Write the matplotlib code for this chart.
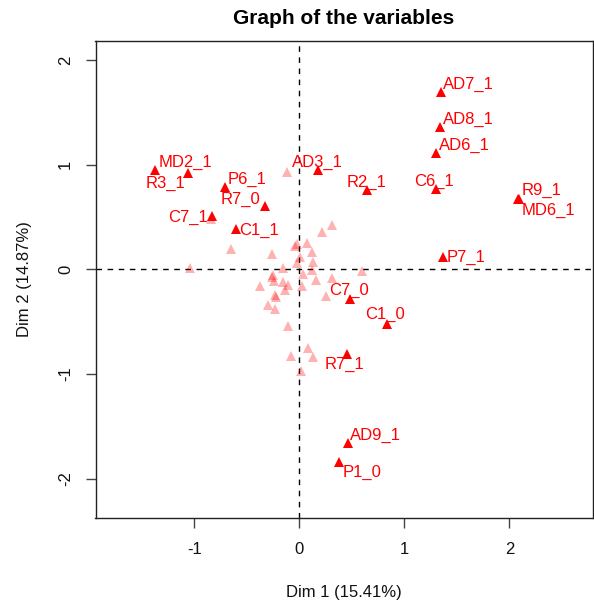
import matplotlib
matplotlib.use("Agg")
import matplotlib.pyplot as plt

plt.rcParams['font.family'] = ['Liberation Sans', 'DejaVu Sans']

# Active (labelled) categories
labels = ["AD7_1", "AD8_1", "AD6_1", "C6_1", "R9_1", "MD6_1", "P7_1",
          "MD2_1", "R3_1", "AD3_1", "R2_1", "P6_1", "R7_0", "C7_1", "C1_1",
          "C7_0", "C1_0", "R7_1", "AD9_1", "P1_0"]
dim1 = [1.350, 1.340, 1.299, 1.299, 2.085, 2.090, 1.372,
        -1.372, -1.055, 0.182, 0.642, -0.706, -0.325, -0.827, -0.605,
        0.483, 0.839, 0.452, 0.461, 0.382]
dim2 = [1.693, 1.358, 1.110, 0.770, 0.675, 0.668, 0.117,
        0.952, 0.923, 0.945, 0.754, 0.786, 0.601, 0.506, 0.385,
        -0.280, -0.519, -0.805, -1.658, -1.840]

# Other (unselected, transparent) categories
other_dim1 = [-0.839, 0.315, 0.217, -0.649, 0.071, -0.040, -0.021, -0.262, 0.125,
              0.008, 0.134, -1.039, -0.157, -0.024, 0.595, 0.039, 0.125, -0.247,
              -0.259, 0.309, 0.160, -0.373, -0.240, -0.151, -0.104, -0.135, 0.024,
              0.255, -0.230, -0.221, -0.294, -0.230, -0.104, 0.081, -0.081, 0.128,
              0.017, -0.121]
other_dim2 = [0.484, 0.420, 0.356, 0.198, 0.251, 0.220, 0.239, 0.150, 0.165,
              0.117, 0.070, 0.016, 0.016, 0.060, -0.016, -0.041, -0.003, -0.057,
              -0.076, -0.083, -0.098, -0.159, -0.115, -0.121, -0.146, -0.194, -0.162,
              -0.258, -0.248, -0.267, -0.337, -0.375, -0.541, -0.747, -0.831, -0.837,
              -0.974, 0.926]

x_ticks = [-1, 0, 1, 2]
y_ticks = [-2, -1, 0, 1, 2]

# label offsets in pixels (dx to left edge, dy to vertical centre)
label_offsets = [(2, 8), (3, 8), (3, 8), (-22, 7), (3, 8), (3, -11), (3, 0),
                 (4, 7), (-43, -11), (-26, 8), (-20, 8), (3, 8), (-44, 7), (-44, -1), (3, -1),
                 (-21, 8), (-22, 9), (-22, -11), (2, 8), (3, -10)]

W, H = 594, 606
fig = plt.figure(figsize=(W / 100, H / 100), dpi=100)
L, R, T, B = 95.5, 592.8, 40.5, 518.3
ax = fig.add_axes([L / W, 1 - B / H, (R - L) / W, (B - T) / H])

ax.set_xlim(-1.939, 2.794)
ax.set_ylim(-2.377, 2.186)

ax.axhline(0, color='black', lw=1, ls=(0, (4, 4)), zorder=1)
ax.axvline(0, color='black', lw=1, ls=(0, (4, 4)), zorder=1)

ax.plot(other_dim1, other_dim2, ls='none', marker='^', markersize=7.2,
        color='red', alpha=0.3, markeredgewidth=0, zorder=2)
ax.plot(dim1, dim2, ls='none', marker='^', markersize=7.2,
        color='red', markeredgewidth=0, zorder=3)

for name, x, y, (dx, dy) in zip(labels, dim1, dim2, label_offsets):
    ax.annotate(name, (x, y), xytext=(dx, dy), textcoords='offset pixels',
                ha='left', va='center', color='red', fontsize=12, zorder=4)

ax.set_xticks(x_ticks)
ax.set_yticks(y_ticks)
ax.set_xticklabels([str(v) for v in x_ticks])
ax.set_yticklabels([str(v) for v in y_ticks], rotation=90, va='center')
ax.tick_params(axis='both', length=7.2, width=1, color='#444444',
               labelsize=12, labelcolor='#111111')
ax.tick_params(axis='x', pad=10)
ax.tick_params(axis='y', pad=9)
for s in ax.spines.values():
    s.set_color('#222222')
    s.set_linewidth(1)

fig.text(344 / W, 1 - 19 / H, "Graph of the variables", ha='center', va='center',
         fontsize=15, fontweight='bold', color='black')
fig.text(344 / W, 1 - 592.5 / H, "Dim 1 (15.41%)", ha='center', va='center',
         fontsize=12, color='#111111')
fig.text(25 / W, 1 - 279 / H, "Dim 2 (14.87%)", ha='center', va='center',
         fontsize=12, rotation=90, color='#111111')

fig.savefig("out.png", dpi=100)
